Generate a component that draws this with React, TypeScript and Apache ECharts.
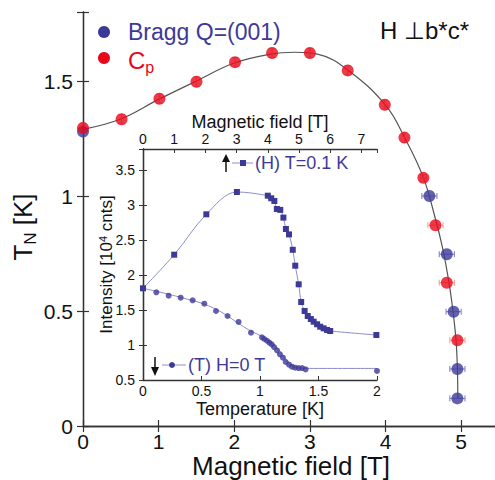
import React, { useEffect, useRef } from 'react';
import * as echarts from 'echarts';

const BLUE = '#3d3a97';
const RED = '#e8071a';
const LINE_BLUE = '#8d8dd2';
const AXIS = '#333';
const FONT = 'Liberation Sans, Arial, Helvetica, sans-serif';

// Main panel: neutron Bragg peak Q=(001)
const braggField = [0, 4.58, 4.81, 4.9, 4.95, 4.95];
const braggTn = [1.28, 1.0, 0.747, 0.497, 0.248, 0.12];
const braggErrField = [0, 0.1, 0.1, 0.1, 0.1, 0.1];
const braggErrTn = [0, 0, 0, 0, 0, 0];

// Main panel: specific heat Cp
const cpField = [0, 0.51, 1.01, 1.5, 2.01, 2.5, 3.0, 3.5, 3.99, 4.25, 4.5, 4.66, 4.81, 4.95];
const cpTn = [1.296, 1.334, 1.423, 1.497, 1.582, 1.622, 1.622, 1.546, 1.397, 1.254, 1.079, 0.873, 0.623, 0.373];
const cpErrField = [0, 0, 0, 0, 0, 0, 0, 0, 0, 0, 0.04, 0.1, 0.1, 0.1];
const cpErrTn = [0.02, 0.02, 0.02, 0.02, 0.02, 0.02, 0.02, 0.02, 0.02, 0.02, 0.015, 0, 0, 0];

// Main panel: phase boundary guide line
const boundaryField = [0, 0.5, 1, 1.5, 2, 2.5, 2.8, 3.1, 3.5, 4, 4.25, 4.5, 4.66, 4.75, 4.82, 4.88, 4.93, 4.95, 4.955];
const boundaryTn = [1.29, 1.335, 1.42, 1.5, 1.578, 1.618, 1.625, 1.617, 1.548, 1.395, 1.255, 1.08, 0.9, 0.78, 0.66, 0.53, 0.38, 0.25, 0.12];

// Inset: (H) field scan at T = 0.1 K
const hField = [0, 1.0, 2.03, 3.01, 4.0, 4.11, 4.21, 4.29, 4.4, 4.5, 4.58, 4.68, 4.8, 4.88, 4.99, 5.07, 5.18, 5.28, 5.38, 5.47, 5.58, 5.68, 5.79, 5.9, 6.0, 7.48];
const hIntensity = [1.81, 2.29, 2.867, 3.186, 3.133, 3.096, 3.057, 2.943, 2.93, 2.82, 2.657, 2.58, 2.36, 2.133, 1.867, 1.614, 1.486, 1.414, 1.371, 1.333, 1.296, 1.261, 1.238, 1.214, 1.2, 1.143];

// Inset: (T) temperature scan at H = 0 T
const tTemp = [0.114, 0.219, 0.322, 0.424, 0.524, 0.624, 0.723, 0.817, 0.923, 1.017, 1.037, 1.06, 1.08, 1.1, 1.12, 1.145, 1.17, 1.196, 1.22, 1.248, 1.273, 1.3, 1.33, 1.36, 1.39, 2.0];
const tIntensity = [1.753, 1.704, 1.676, 1.638, 1.59, 1.486, 1.414, 1.329, 1.176, 1.11, 1.086, 1.061, 1.033, 1.01, 0.971, 0.924, 0.867, 0.819, 0.757, 0.719, 0.69, 0.676, 0.671, 0.671, 0.652, 0.629];
const tFitTemp = [0, 0.3, 0.6, 0.9, 1.05, 1.15, 1.22, 1.28, 1.35, 1.5, 2.0];
const tFitIntensity = [1.81, 1.69, 1.53, 1.22, 1.09, 0.95, 0.8, 0.7, 0.67, 0.665, 0.665];

const zip = (a: number[], b: number[]) => a.map((v, i) => [v, b[i]]);

const onGrid = (step: number) => (v: number) => {
  const r = v / step;
  return Math.abs(r - Math.round(r)) < 1e-6 ? String(v) : '';
};

function errorSeries(xs: number[], ys: number[], dxs: number[], dys: number[], color: string) {
  return {
    type: 'custom',
    xAxisIndex: 0,
    yAxisIndex: 0,
    silent: true,
    z: 3,
    data: xs.map((x, i) => [x, ys[i], dxs[i], dys[i]]),
    renderItem: (_p: any, api: any) => {
      const x = api.value(0);
      const y = api.value(1);
      const dx = api.value(2);
      const dy = api.value(3);
      const style = { stroke: color, lineWidth: 1 };
      const children: any[] = [];
      const seg = (x1: number, y1: number, x2: number, y2: number) =>
        children.push({ type: 'line', shape: { x1, y1, x2, y2 }, style });
      if (dx > 0) {
        const a = api.coord([x - dx, y]);
        const b = api.coord([x + dx, y]);
        seg(a[0], a[1], b[0], b[1]);
        seg(a[0], a[1] - 3, a[0], a[1] + 3);
        seg(b[0], b[1] - 3, b[0], b[1] + 3);
      }
      if (dy > 0) {
        const a = api.coord([x, y - dy]);
        const b = api.coord([x, y + dy]);
        seg(a[0], a[1], b[0], b[1]);
        seg(a[0] - 3, a[1], a[0] + 3, a[1]);
        seg(b[0] - 3, b[1], b[0] + 3, b[1]);
      }
      return { type: 'group', children };
    },
  };
}

const axisLine = { show: true, lineStyle: { color: AXIS, width: 1.3 } };

export default function App() {
  const ref = useRef<HTMLDivElement>(null);
  useEffect(() => {
    if (!ref.current) return;
    const chart = echarts.init(ref.current, undefined, { renderer: 'svg' });
    const option: any = {
      animation: false,
      backgroundColor: '#fff',
      textStyle: { fontFamily: FONT },
      grid: [
        { left: 83, top: 12, width: 416, height: 414, outerBoundsMode: 'none', containLabel: false },
        {
          left: 143, top: 149, width: 234, height: 231, show: true, backgroundColor: '#fff', borderWidth: 0,
          outerBoundsMode: 'none', containLabel: false,
        },
      ],
      xAxis: [
        {
          gridIndex: 0, type: 'value', min: 0, max: 5.5, interval: 1, position: 'bottom',
          axisLine, splitLine: { show: false },
          axisTick: { inside: true, length: 6, lineStyle: { color: AXIS, width: 1.2 } },
          axisLabel: { fontSize: 21, color: '#111', margin: 5, fontFamily: FONT, formatter: onGrid(1) },
          name: 'Magnetic field [T]', nameLocation: 'middle', nameGap: 27, nameMoveOverlap: false,
          nameTextStyle: { fontSize: 26, color: '#111', fontFamily: FONT },
        },
        {
          gridIndex: 0, type: 'value', min: 0, max: 5.5, interval: 1, position: 'top',
          axisLine, splitLine: { show: false },
          axisTick: { inside: true, length: 6, lineStyle: { color: AXIS, width: 1.2 } },
          axisLabel: { show: false },
        },
        {
          gridIndex: 1, type: 'value', min: 0, max: 2, interval: 0.5, position: 'bottom',
          axisLine, splitLine: { show: false },
          axisTick: { inside: true, length: 4, lineStyle: { color: AXIS } },
          axisLabel: { fontSize: 14, color: '#111', margin: 4, fontFamily: FONT },
          name: 'Temperature [K]', nameLocation: 'middle', nameGap: 20, nameMoveOverlap: false,
          nameTextStyle: { fontSize: 18, color: '#111', fontFamily: FONT },
        },
        {
          gridIndex: 1, type: 'value', min: 0, max: 7.5, interval: 1, position: 'top',
          axisLine, splitLine: { show: false },
          axisTick: { inside: true, length: 4, lineStyle: { color: AXIS } },
          axisLabel: { fontSize: 14, color: '#111', margin: 3, fontFamily: FONT, formatter: onGrid(1) },
          name: 'Magnetic field [T]', nameLocation: 'middle', nameGap: 18, nameMoveOverlap: false,
          nameTextStyle: { fontSize: 18, color: '#111', fontFamily: FONT },
        },
      ],
      yAxis: [
        {
          gridIndex: 0, type: 'value', min: 0, max: 1.8, interval: 0.5, position: 'left',
          axisLine, splitLine: { show: false },
          axisTick: { inside: true, length: 6, lineStyle: { color: AXIS, width: 1.2 } },
          axisLabel: { fontSize: 21, color: '#111', margin: 10, fontFamily: FONT, formatter: onGrid(0.5) },
          name: '{m|T}{s|N}{m| [K]}', nameLocation: 'middle', nameGap: 44, nameMoveOverlap: false,
          nameTextStyle: {
            color: '#111', fontFamily: FONT, padding: [0, 16, 0, 0],
            rich: {
              m: { fontSize: 26, lineHeight: 33, color: '#111', fontFamily: FONT },
              s: { fontSize: 17, lineHeight: 17, verticalAlign: 'bottom', color: '#111', fontFamily: FONT },
            },
          },
        },
        {
          gridIndex: 0, type: 'value', min: 0, max: 1.8, interval: 0.5, position: 'right',
          axisLine, splitLine: { show: false },
          axisTick: { inside: true, length: 6, lineStyle: { color: AXIS, width: 1.2 } },
          axisLabel: { show: false },
        },
        {
          gridIndex: 1, type: 'value', min: 0.5, max: 3.8, interval: 0.5, position: 'left',
          axisLine, splitLine: { show: false },
          axisTick: { inside: true, length: 4, lineStyle: { color: AXIS } },
          axisLabel: { fontSize: 14, color: '#111', margin: 8, fontFamily: FONT, formatter: onGrid(0.5) },
          name: '{m|Intensity [10}{p|4}{m| cnts]}', nameLocation: 'middle', nameGap: 27, nameMoveOverlap: false,
          nameTextStyle: {
            color: '#111', fontFamily: FONT,
            rich: {
              m: { fontSize: 17, lineHeight: 19, color: '#111', fontFamily: FONT },
              p: { fontSize: 11, lineHeight: 11, verticalAlign: 'top', color: '#111', fontFamily: FONT },
            },
          },
        },
        {
          gridIndex: 1, type: 'value', min: 0.5, max: 3.8, interval: 0.5, position: 'right',
          axisLine, splitLine: { show: false },
          axisTick: { inside: true, length: 4, lineStyle: { color: AXIS } },
          axisLabel: { show: false },
        },
      ],
      series: [
        {
          type: 'line', xAxisIndex: 0, yAxisIndex: 0, data: zip(boundaryField, boundaryTn),
          smooth: 0.4, showSymbol: false, silent: true, z: 1,
          lineStyle: { color: '#555', width: 1.2 },
        },
        errorSeries(braggField, braggTn, braggErrField, braggErrTn, '#7b78c9'),
        errorSeries(cpField, cpTn, cpErrField, cpErrTn, '#f49a86'),
        {
          type: 'scatter', xAxisIndex: 0, yAxisIndex: 0, data: zip(braggField, braggTn),
          symbol: 'circle', symbolSize: 12, itemStyle: { color: BLUE }, z: 4,
        },
        {
          type: 'scatter', xAxisIndex: 0, yAxisIndex: 0, data: zip(cpField, cpTn),
          symbol: 'circle', symbolSize: 12, itemStyle: { color: RED }, z: 5,
        },
        {
          type: 'line', xAxisIndex: 3, yAxisIndex: 2, data: zip(hField, hIntensity),
          smooth: 0.35, symbol: 'rect', symbolSize: 6, showSymbol: true, z: 6,
          lineStyle: { color: LINE_BLUE, width: 1 }, itemStyle: { color: BLUE },
        },
        {
          type: 'line', xAxisIndex: 2, yAxisIndex: 2, data: zip(tFitTemp, tFitIntensity),
          smooth: 0.4, showSymbol: false, z: 6,
          lineStyle: { color: LINE_BLUE, width: 1 },
        },
        {
          type: 'scatter', xAxisIndex: 2, yAxisIndex: 2, data: zip(tTemp, tIntensity),
          symbol: 'circle', symbolSize: 6, itemStyle: { color: BLUE }, z: 7,
        },
      ],
      graphic: [
        { type: 'circle', shape: { cx: 104, cy: 32, r: 6 }, style: { fill: BLUE }, z: 10 },
        {
          type: 'text', x: 128, y: 32, z: 10,
          style: { text: 'Bragg Q=(001)', fill: BLUE, font: `23px ${FONT}`, verticalAlign: 'middle', align: 'left' },
        },
        { type: 'circle', shape: { cx: 104, cy: 58, r: 6 }, style: { fill: RED }, z: 10 },
        {
          type: 'text', x: 128, y: 60, z: 10,
          style: {
            text: '{m|C}{s|p}', verticalAlign: 'middle', align: 'left',
            rich: {
              m: { fontSize: 24, lineHeight: 31, fill: RED, fontFamily: FONT },
              s: { fontSize: 16, lineHeight: 16, verticalAlign: 'bottom', fill: RED, fontFamily: FONT },
            },
          },
        },
        {
          type: 'text', x: 380, y: 30, z: 10,
          style: { text: 'H ⊥b*c*', fill: '#111', font: `24px ${FONT}`, verticalAlign: 'middle', align: 'left' },
        },
        // inset legend (H)
        { type: 'line', shape: { x1: 226, y1: 172, x2: 226, y2: 160 }, style: { stroke: '#111', lineWidth: 1.5 }, z: 10 },
        { type: 'polygon', shape: { points: [[222, 162], [230, 162], [226, 154]] }, style: { fill: '#111' }, z: 10 },
        { type: 'line', shape: { x1: 232, y1: 163, x2: 253, y2: 163 }, style: { stroke: LINE_BLUE, lineWidth: 1 }, z: 10 },
        { type: 'rect', shape: { x: 240, y: 160, width: 6, height: 6 }, style: { fill: BLUE }, z: 10 },
        {
          type: 'text', x: 255, y: 163, z: 10,
          style: { text: '(H) T=0.1 K', fill: BLUE, font: `18px ${FONT}`, verticalAlign: 'middle', align: 'left' },
        },
        // inset legend (T)
        { type: 'line', shape: { x1: 155, y1: 357, x2: 155, y2: 369 }, style: { stroke: '#111', lineWidth: 1.5 }, z: 10 },
        { type: 'polygon', shape: { points: [[151, 367], [159, 367], [155, 376]] }, style: { fill: '#111' }, z: 10 },
        { type: 'line', shape: { x1: 162, y1: 365, x2: 186, y2: 365 }, style: { stroke: LINE_BLUE, lineWidth: 1 }, z: 10 },
        { type: 'circle', shape: { cx: 172, cy: 365, r: 3 }, style: { fill: BLUE }, z: 10 },
        {
          type: 'text', x: 188, y: 365, z: 10,
          style: { text: '(T) H=0 T', fill: BLUE, font: `18px ${FONT}`, verticalAlign: 'middle', align: 'left' },
        },
      ],
    };
    chart.setOption(option);
    return () => chart.dispose();
  }, []);
  return (
    <div
      ref={ref}
      style={{ position: 'fixed', left: 0, top: 0, width: 495, height: 480, background: '#fff' }}
    />
  );
}
